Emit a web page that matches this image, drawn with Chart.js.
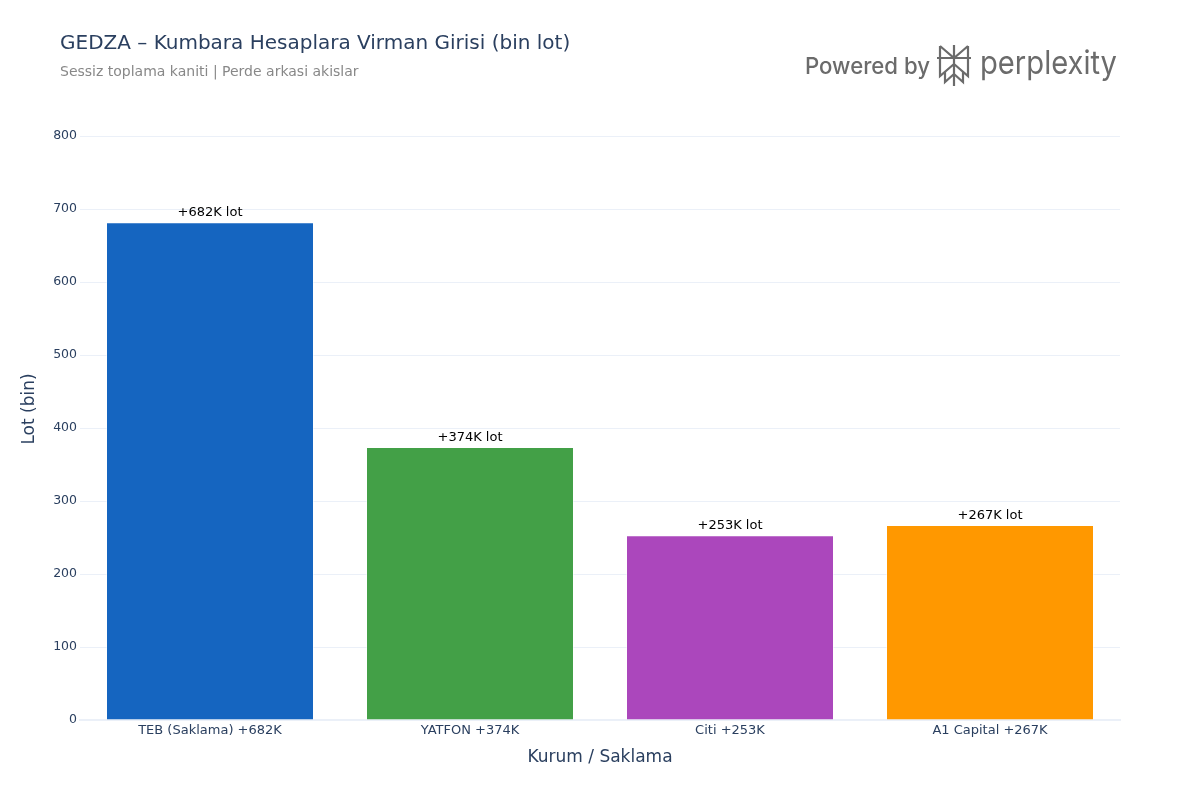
<!DOCTYPE html>
<html>
<head>
<meta charset="utf-8">
<script src="https://cdn.jsdelivr.net/npm/chart.js@4/dist/chart.umd.min.js"></script>
<style>
  html, body { margin: 0; padding: 0; background: #fff; }
  #wrap { width: 1200px; height: 800px; }
</style>
</head>
<body>
<div id="wrap"><canvas id="chart" width="1200" height="800"></canvas></div>
<script>
// Veriler (bin lot)
const categories = ['TEB (Saklama) +682K', 'YATFON +374K', 'Citi +253K', 'A1 Capital +267K'];
const values = [682, 374, 253, 267];
const valueLabels = ['+682K lot', '+374K lot', '+253K lot', '+267K lot'];
const barColors = ['#1565C0', '#43A047', '#AB47BC', '#FF9800'];

const FONT = '"DejaVu Sans", "Open Sans", sans-serif';
const INK = '#2a3f5f';

// baslik, alt baslik, eksen basliklari ve logo
const headerPlugin = {
    id: 'header',
    afterDraw(chart) {
        const ctx = chart.ctx;
        ctx.save();
        ctx.textBaseline = 'middle';
        ctx.textAlign = 'left';
        ctx.fillStyle = INK;
        ctx.font = '20px ' + FONT;
        ctx.fillText('GEDZA – Kumbara Hesaplara Virman Girisi (bin lot)', 60, 44);
        ctx.fillStyle = '#888888';
        ctx.font = '14px ' + FONT;
        ctx.fillText('Sessiz toplama kaniti | Perde arkasi akislar', 60, 72);

        // eksen basliklari
        ctx.fillStyle = INK;
        ctx.font = '17px ' + FONT;
        ctx.textAlign = 'center';
        ctx.fillText('Kurum / Saklama', 600, 758);
        ctx.save();
        ctx.translate(30, 409);
        ctx.rotate(-Math.PI / 2);
        ctx.fillText('Lot (bin)', 0, 0);
        ctx.restore();
        ctx.textAlign = 'left';

        // Powered by perplexity
        ctx.fillStyle = '#6b6b6b';
        ctx.font = '500 23px Inter, "Open Sans", sans-serif';
        const pw = ctx.measureText('Powered by').width;
        ctx.save();
        ctx.translate(805, 67);
        ctx.scale(125 / pw, 1);
        ctx.fillText('Powered by', 0, 0);
        ctx.restore();

        ctx.strokeStyle = '#6b6b6b';
        ctx.lineWidth = 2.2;
        ctx.lineJoin = 'miter';
        const cx = 954;
        ctx.beginPath();
        ctx.moveTo(cx, 45); ctx.lineTo(cx, 86);
        ctx.moveTo(940, 46); ctx.lineTo(cx, 58); ctx.lineTo(968, 46);
        ctx.moveTo(940, 46); ctx.lineTo(940, 58);
        ctx.moveTo(968, 46); ctx.lineTo(968, 58);
        ctx.moveTo(937, 58); ctx.lineTo(971, 58);
        ctx.moveTo(940, 58); ctx.lineTo(940, 76); ctx.lineTo(cx, 64);
        ctx.moveTo(968, 58); ctx.lineTo(968, 76); ctx.lineTo(cx, 64);
        ctx.moveTo(945, 72); ctx.lineTo(945, 82); ctx.lineTo(cx, 74);
        ctx.moveTo(963, 72); ctx.lineTo(963, 82); ctx.lineTo(cx, 74);
        ctx.stroke();

        ctx.font = '400 33px Inter, "Open Sans", sans-serif';
        const qw = ctx.measureText('perplexity').width;
        ctx.save();
        ctx.translate(980, 64);
        ctx.scale(137 / qw, 1);
        ctx.fillText('perplexity', 0, 0);
        ctx.restore();
        ctx.restore();
    }
};

// cubuk ustu etiketler
const barLabelPlugin = {
    id: 'barLabels',
    afterDatasetsDraw(chart) {
        const ctx = chart.ctx;
        const meta = chart.getDatasetMeta(0);
        ctx.save();
        ctx.fillStyle = '#000000';
        ctx.font = '13px ' + FONT;
        ctx.textAlign = 'center';
        ctx.textBaseline = 'bottom';
        meta.data.forEach((bar, i) => {
            ctx.fillText(valueLabels[i], bar.x, bar.y - 3);
        });
        ctx.restore();
    }
};

new Chart(document.getElementById('chart').getContext('2d'), {
    type: 'bar',
    data: {
        labels: categories,
        datasets: [{
            data: values,
            backgroundColor: barColors,
            borderColor: 'rgba(255,255,255,0.45)',
            borderWidth: 1,
            barPercentage: 0.8,
            categoryPercentage: 1.0
        }]
    },
    options: {
        responsive: false,
        animation: false,
        devicePixelRatio: 1,
        layout: { padding: { top: 136, right: 80, left: 0, bottom: 0 } },
        plugins: {
            legend: { display: false },
            tooltip: { enabled: false }
        },
        scales: {
            x: {
                afterFit: scale => { scale.height = 80; },
                grid: { display: false, drawTicks: false },
                border: { display: true, color: '#EBF0F8', width: 2 },
                ticks: { color: INK, font: { family: FONT, size: 13 }, padding: 3, maxRotation: 0 }
            },
            y: {
                min: 0,
                max: 800,
                afterFit: scale => { scale.width = 80; },
                grid: { color: '#EBF0F8', drawTicks: false },
                border: { display: false },
                ticks: { stepSize: 100, color: INK, font: { family: FONT, size: 12.5 }, padding: 3 }
            }
        }
    },
    plugins: [headerPlugin, barLabelPlugin]
});
</script>
</body>
</html>
